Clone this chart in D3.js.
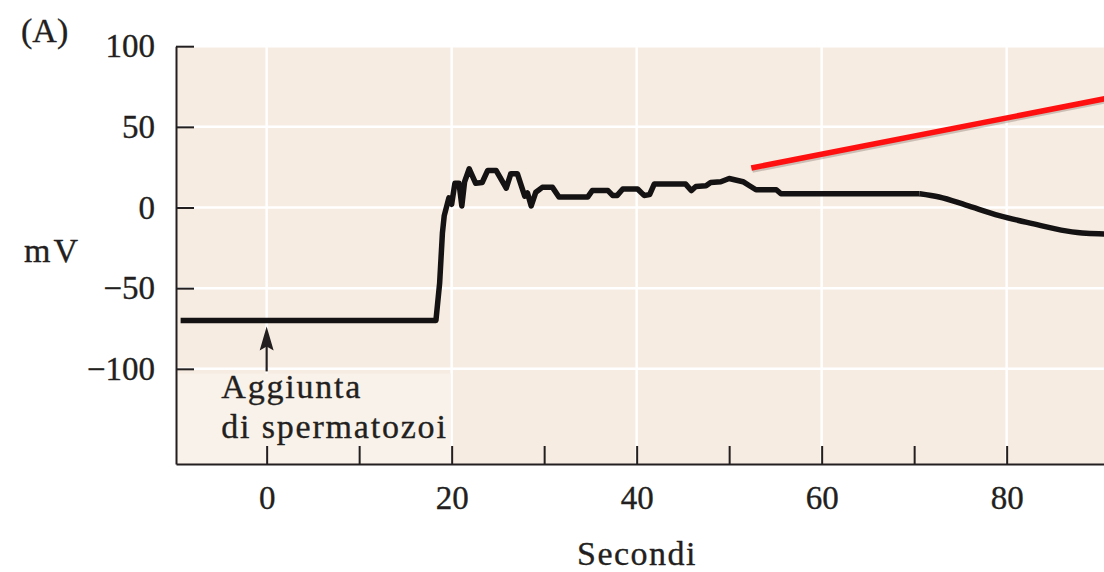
<!DOCTYPE html>
<html>
<head>
<meta charset="utf-8">
<script src="https://cdn.jsdelivr.net/npm/d3@7"></script>
<style>
  body { margin: 0; background: #ffffff; }
  svg { display: block; font-family: "Liberation Serif", "Times New Roman", serif; }
  .axis path, .axis line { stroke: #231f20; stroke-width: 2; }
  .axis text { fill: #231f20; font-size: 33px; font-family: "Liberation Serif", serif;
               stroke: #231f20; stroke-width: 0.35; }
  .label { fill: #231f20; font-size: 34px; stroke: #231f20; stroke-width: 0.35; }
</style>
</head>
<body>
<svg class="svg_trace" width="1104" height="572"></svg>
<script>
/* membrane potential of the egg after sperm is added (panel A) */

// time in seconds
var seconds = [-9.3, 18.3, 18.7, 19.0, 19.2, 19.7, 20.0, 20.35, 20.8, 21.1, 21.4, 21.9,
  22.6, 23.3, 23.9, 24.8, 25.9, 26.4, 27.1, 27.9, 28.2, 28.6, 29.1, 29.8, 30.9, 31.6,
  34.7, 35.2, 36.9, 37.4, 37.9, 38.5, 40.1, 40.8, 41.4, 41.9, 45.3, 45.9, 46.4, 47.5,
  48.0, 49.1, 50.0, 51.5, 52.2, 52.9, 55.1, 55.6, 70.6, 72.7, 75.6, 79.2, 82.8, 86.4,
  88.6, 92];
// membrane potential in mV
var millivolts = [-70, -70, -47, -16, -5, 6, 2, 15, 15, 1, 16, 24,
  15, 15.5, 23, 23, 12, 21, 21, 7, 9, 1, 9.5, 12.5, 12.5, 6.5,
  6.5, 10.5, 10.5, 7.5, 7.5, 11.5, 11.5, 7.5, 8, 14.5, 14.5, 10.5, 13, 13.5,
  15.5, 16, 18, 16, 13.5, 11, 11, 8.5, 8.5, 6.5, 1.5, -5, -10, -14.5,
  -16, -16.5];
// from here on the trace is a smooth decay, earlier it is jagged
var smoothFrom = 70.6;

var xMajor = [0, 20, 40, 60, 80],
    xMinor = [10, 30, 50, 70],
    yMajor = [-100, -50, 0, 50, 100];

// red pointer line (start, end) as [s, mV]
var pointerLine = [[52.4, 24.5], [100, 78]];
// arrow marking sperm addition: [s, mV from, mV to]
var arrowAt = [0, -101.6, -73.7];
var noteLines = ["Aggiunta", "di spermatozoi"];

function drawTrace() {
    var svg = d3.select(".svg_trace");

    var x = d3.scaleLinear().domain([-9.8, 100]).range([176, 176 + 109.8 * 9.25]),
        y = d3.scaleLinear().domain([-159, 100]).range([464, 46.2]);

    var left = x.range()[0], right = x.range()[1],
        top = y.range()[1], bottom = y.range()[0];

    // plot background
    svg.append("rect")
        .attr("x", left).attr("y", top)
        .attr("width", right - left).attr("height", bottom - top)
        .attr("fill", "#f6ece2");

    // white grid
    var grid = svg.append("g").attr("class", "grid");
    grid.selectAll(".vgrid").data(xMajor).enter().append("line")
        .attr("x1", function(d) { return x(d); }).attr("x2", function(d) { return x(d); })
        .attr("y1", top).attr("y2", bottom)
        .attr("stroke", "#ffffff").attr("stroke-width", 2.5);
    grid.selectAll(".hgrid").data(yMajor).enter().append("line")
        .attr("x1", left).attr("x2", right)
        .attr("y1", function(d) { return y(d); }).attr("y2", function(d) { return y(d); })
        .attr("stroke", "#ffffff").attr("stroke-width", 2.5);

    // slightly lighter patch behind the note
    svg.append("rect")
        .attr("x", left + 2).attr("y", y(arrowAt[1]) + 2)
        .attr("width", x(20) - left - 3).attr("height", bottom - y(arrowAt[1]) - 3)
        .attr("fill", "#f9f2ea");

    // axes, ticks pointing inward
    var xAll = xMajor.concat(xMinor);
    svg.append("g")
        .attr("class", "x axis")
        .attr("transform", "translate(0," + bottom + ")")
        .call(d3.axisBottom(x).tickValues(xAll).tickSize(-18).tickSizeOuter(0).tickPadding(22)
            .tickFormat(function(d) { return xMajor.indexOf(d) >= 0 ? d : ""; }));

    svg.append("g")
        .attr("class", "y axis")
        .attr("transform", "translate(" + left + ",0)")
        .call(d3.axisLeft(y).tickValues(yMajor).tickSize(-18).tickSizeOuter(0).tickPadding(21));

    // red pointer with a faint shadow
    var lineGen = d3.line().x(function(d) { return x(d[0]); }).y(function(d) { return y(d[1]); });
    svg.append("path")
        .datum(pointerLine)
        .attr("d", lineGen)
        .attr("transform", "translate(1,2)")
        .attr("stroke", "#7a6a60").attr("stroke-opacity", 0.35).attr("stroke-width", 5.5)
        .attr("fill", "none");
    svg.append("path")
        .datum(pointerLine)
        .attr("d", lineGen)
        .attr("stroke", "#ff1010").attr("stroke-width", 5.5)
        .attr("fill", "none");

    // the trace: jagged part straight, decay smooth
    var trace = seconds.map(function(s, i) { return [s, millivolts[i]]; });
    var jagged = trace.filter(function(d) { return d[0] <= smoothFrom; }),
        decay = trace.filter(function(d) { return d[0] >= smoothFrom; });

    svg.selectAll(".trace")
        .data([[jagged, d3.curveLinear], [decay, d3.curveMonotoneX]])
        .enter().append("path")
        .attr("class", "trace")
        .attr("d", function(d) {
            return d3.line().curve(d[1])
                .x(function(p) { return x(p[0]); }).y(function(p) { return y(p[1]); })(d[0]);
        })
        .attr("fill", "none")
        .attr("stroke", "#141212")
        .attr("stroke-width", 5.5)
        .attr("stroke-linejoin", "round");

    // arrow
    var ax = x(arrowAt[0]), ay0 = y(arrowAt[1]), ay1 = y(arrowAt[2]);
    svg.append("line")
        .attr("x1", ax).attr("x2", ax).attr("y1", ay0).attr("y2", ay1 + 18)
        .attr("stroke", "#231f20").attr("stroke-width", 2.2);
    svg.append("path")
        .attr("d", "M" + ax + "," + ay1 + " L" + (ax + 7) + "," + (ay1 + 24) +
              " L" + ax + "," + (ay1 + 20) + " L" + (ax - 7) + "," + (ay1 + 24) + "Z")
        .attr("fill", "#231f20");

    // note text
    svg.append("g").selectAll("text")
        .data(noteLines)
        .enter().append("text")
        .attr("class", "label")
        .attr("x", x(-4.9))
        .attr("y", function(d, i) { return y(-118) + i * 40.5; })
        .attr("letter-spacing", 1.8)
        .text(function(d) { return d; });

    // axis titles and panel letter
    svg.append("text").attr("class", "label")
        .attr("x", 24).attr("y", 262).attr("letter-spacing", 3)
        .text("mV");
    svg.append("text").attr("class", "label")
        .attr("x", 637).attr("y", 565).attr("text-anchor", "middle").attr("letter-spacing", 1.5)
        .text("Secondi");
    svg.append("text").attr("class", "label")
        .attr("x", 21).attr("y", 42)
        .text("(A)");
}

drawTrace();
</script>
</body>
</html>
